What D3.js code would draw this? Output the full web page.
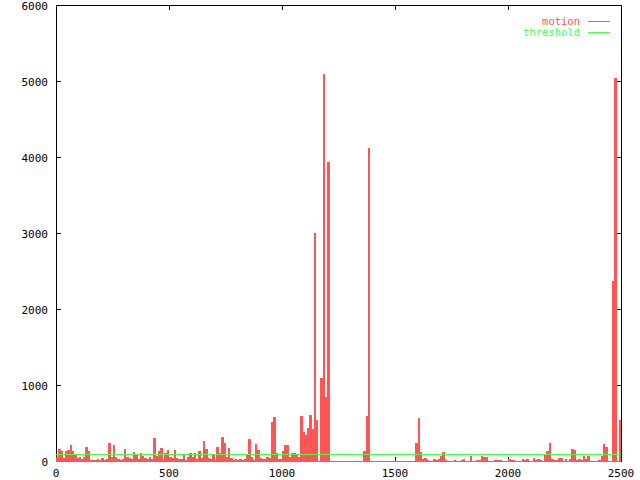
<!DOCTYPE html>
<html>
<head>
<meta charset="utf-8">
<script src="https://cdn.jsdelivr.net/npm/d3@7"></script>
<style>
  body { margin: 0; background: #fff; }
  text { font-family: "DejaVu Sans Mono", monospace; font-size: 11px; }
</style>
</head>
<body>
<div id="chart"></div>
<script>

// motion value per 10-frame bucket, frames 0..2500
var motion = [
    70, 170, 150, 50, 140, 160, 220, 150, 90, 50,
    60, 40, 60, 200, 150, 30, 20, 30, 40, 20,
    50, 20, 40, 255, 60, 228, 60, 40, 30, 40,
    167, 60, 50, 40, 130, 110, 40, 120, 80, 50,
    40, 60, 40, 320, 80, 150, 180, 25, 120, 160,
    70, 50, 160, 50, 35, 35, 90, 20, 70, 115,
    70, 120, 35, 150, 50, 280, 167, 50, 35, 90,
    25, 200, 115, 330, 255, 70, 180, 50, 20, 35,
    20, 45, 20, 35, 90, 300, 70, 25, 237, 158,
    50, 35, 45, 60, 50, 520, 590, 120, 35, 45,
    140, 224, 224, 70, 120, 115, 90, 70, 600, 400,
    350, 450, 620, 430, 3010, 550, 5, 1100, 5100, 850,
    3950, 5, 5, 5, 5, 5, 5, 5, 5, 5,
    5, 5, 5, 5, 5, 5, 150, 600, 4130, 5,
    5, 5, 5, 5, 5, 5, 5, 5, 5, 5,
    5, 5, 5, 5, 5, 5, 5, 5, 5, 250,
    575, 130, 35, 50, 20, 5, 5, 44, 20, 44,
    80, 136, 20, 5, 5, 5, 20, 5, 5, 26,
    44, 5, 5, 80, 5, 5, 20, 20, 80, 60,
    66, 5, 5, 5, 20, 20, 20, 5, 5, 5,
    44, 20, 20, 5, 5, 5, 44, 20, 44, 5,
    5, 48, 20, 35, 20, 5, 90, 150, 255, 40,
    20, 20, 48, 48, 5, 44, 5, 44, 170, 155,
    20, 35, 26, 80, 44, 80, 5, 5, 5, 5,
    20, 80, 237, 195, 5, 5, 2380, 5050, 5, 550
];
var frameStep = 10;
var threshold = 100;

var xTicks = [0, 500, 1000, 1500, 2000, 2500];
var yTicks = [0, 1000, 2000, 3000, 4000, 5000, 6000];
var legendLabels = ["motion", "threshold"];

var config = {
    width: 640, height: 480,
    left: 56, right: 621, top: 6, bottom: 462,
    red: "#ff5555", green: "#44ff44",
    tick: 5
};

var svg = d3.select("#chart")
    .append("svg")
    .attr("width", config.width)
    .attr("height", config.height);

var x = d3.scaleLinear().domain([0, 2500]).range([config.left, config.right]);
var y = d3.scaleLinear().domain([0, 6000]).range([config.bottom, config.top]);

// border box
svg.append("rect")
    .attr("x", config.left + 0.5)
    .attr("y", config.top - 0.5)
    .attr("width", config.right - config.left)
    .attr("height", config.bottom - config.top)
    .attr("fill", "none")
    .attr("stroke", "#000")
    .attr("stroke-width", 1);

// y ticks (left and mirrored right)
yTicks.forEach(function(t) {
    var py = Math.round(y(t)) - 0.5;
    svg.append("line")
        .attr("x1", config.left).attr("x2", config.left + config.tick)
        .attr("y1", py).attr("y2", py)
        .attr("stroke", "#000");
    svg.append("line")
        .attr("x1", config.right + 1).attr("x2", config.right + 1 - config.tick)
        .attr("y1", py).attr("y2", py)
        .attr("stroke", "#000");
    svg.append("text").text(t)
        .attr("x", 48)
        .attr("y", y(t) + 4)
        .attr("text-anchor", "end")
        .attr("fill", "#000");
});

// x ticks (bottom and mirrored top)
xTicks.forEach(function(t) {
    var px = Math.round(x(t)) + 0.5;
    svg.append("line")
        .attr("x1", px).attr("x2", px)
        .attr("y1", config.bottom).attr("y2", config.bottom - config.tick)
        .attr("stroke", "#000");
    svg.append("line")
        .attr("x1", px).attr("x2", px)
        .attr("y1", config.top - 1).attr("y2", config.top - 1 + config.tick)
        .attr("stroke", "#000");
    svg.append("text").text(t)
        .attr("x", x(t))
        .attr("y", 477)
        .attr("text-anchor", "middle")
        .attr("fill", "#000");
});

// motion bars
svg.append("g")
    .attr("shape-rendering", "crispEdges")
    .selectAll("rect")
    .data(motion)
    .enter().append("rect")
    .attr("x", function(d, i) { return x(i * frameStep); })
    .attr("width", function(d, i) { return x((i + 1) * frameStep) - x(i * frameStep) + 0.3; })
    .attr("y", function(d) { return Math.min(y(d), config.bottom - 1); })
    .attr("height", function(d) { return config.bottom - Math.min(y(d), config.bottom - 1); })
    .attr("fill", config.red);

// threshold line
var ty = Math.floor(y(threshold)) + 0.5;
svg.append("line")
    .attr("x1", config.left).attr("x2", config.right)
    .attr("y1", ty).attr("y2", ty)
    .attr("stroke", config.green)
    .attr("stroke-width", 1.2);

// legend
var legendColors = [config.red, config.green];
legendLabels.forEach(function(label, i) {
    var ly = 21 + i * 11;
    svg.append("text").text(label)
        .attr("x", 580)
        .attr("y", ly + 3.5)
        .attr("text-anchor", "end")
        .attr("fill", legendColors[i])
        .style("font-size", "10.5px");
    svg.append("line")
        .attr("x1", 588).attr("x2", 610)
        .attr("y1", ly + 0.5).attr("y2", ly + 0.5)
        .attr("stroke", legendColors[i]);
});

</script>
</body>
</html>
